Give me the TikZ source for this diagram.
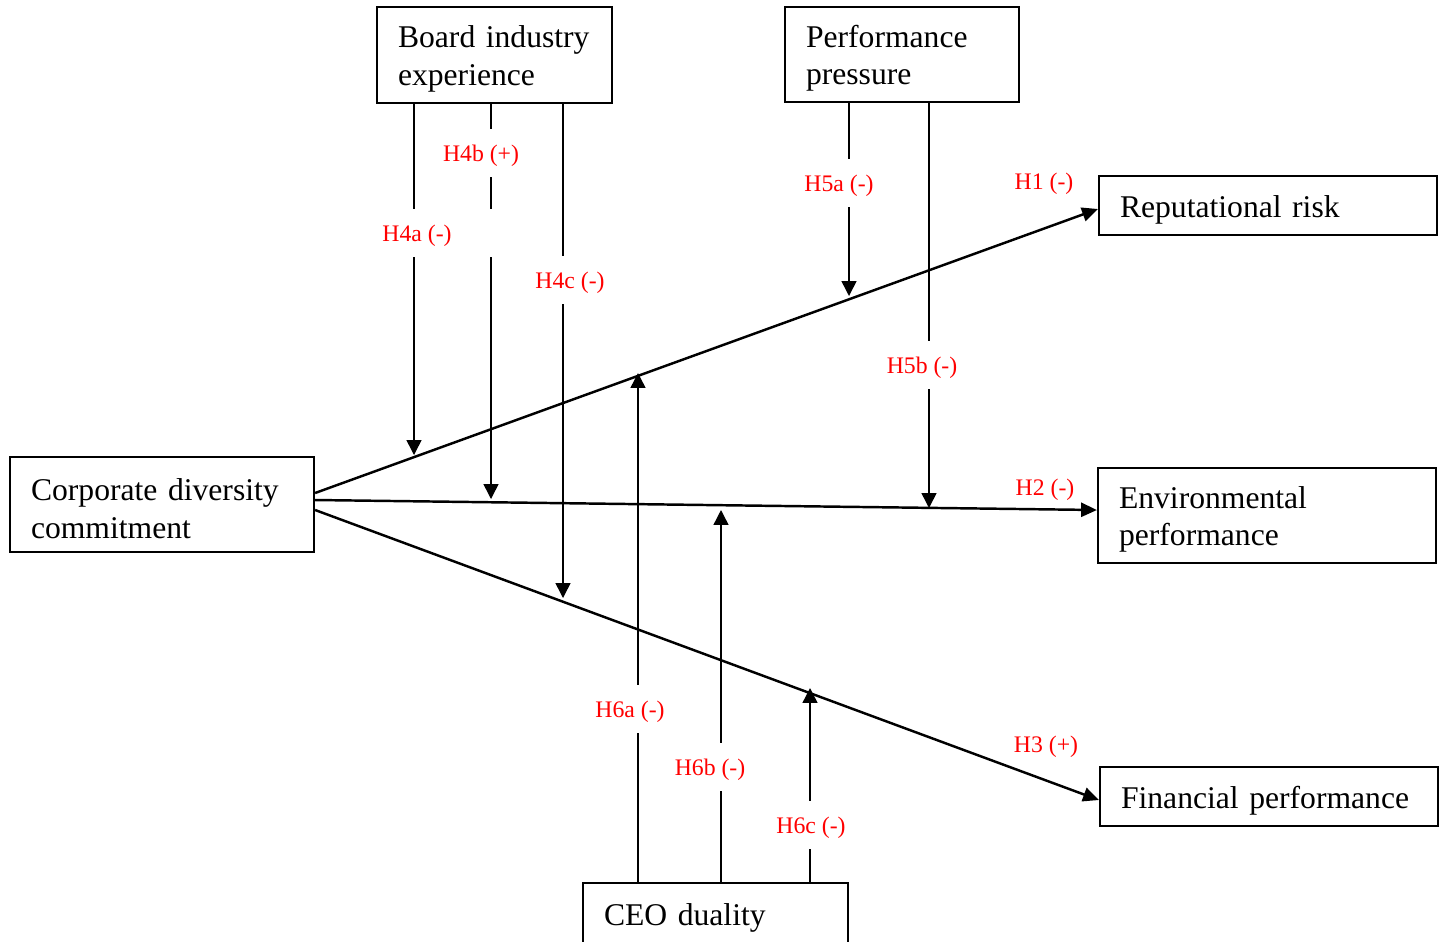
\documentclass[tikz,border=0pt]{standalone}
\usepackage{fontspec}
\setmainfont{Liberation Serif}
\usetikzlibrary{arrows.meta}

\begin{document}
\begin{tikzpicture}[x=0.02cm, y=-0.02cm,
	box/.style={draw, rectangle, line width=1.3pt, align=left, inner xsep=0.42cm, font=\fontsize{18}{21.3}\selectfont, execute at begin node={\rule{0pt}{17pt}}},
	hyp/.style={text=red, fill=white, minimum height=27pt, inner xsep=2pt, text height=12.7pt, text depth=2.9pt, font=\fontsize{13.5}{16}\selectfont},
	hmain/.style={text=red, inner sep=1pt, text height=12.7pt, text depth=2.9pt, font=\fontsize{13.5}{16}\selectfont},
	mainarrow/.style={line width=1.4pt, -{Triangle[length=9pt, width=8pt]}},
	modarrow/.style={line width=0.85pt, -{Triangle[length=8.5pt, width=8.5pt]}}]
	\useasboundingbox (0,0) rectangle (1446,941);

	\node[box, text width=3.86cm, minimum height=1.92cm]	(bie)	at (494.5,55)	{Board industry\\experience};
	\node[box, text width=3.84cm, minimum height=1.90cm]	(pp)	at (902,54.5)	{Performance\\pressure};
	\node[box, text width=5.24cm, minimum height=1.90cm]	(cdc)	at (162,504.5)	{Corporate diversity\\commitment};
	\node[box, text width=5.92cm, minimum height=1.18cm]	(rr)	at (1268,205.5)	{Reputational risk};
	\node[box, text width=5.92cm, minimum height=1.90cm]	(ep)	at (1267,515.5)	{Environmental\\performance};
	\node[box, text width=5.92cm, minimum height=1.18cm]	(fp)	at (1269,796.5)	{Financial performance};
	\node[box, text width=4.46cm, minimum height=1.24cm]	(ceo)	at (715.5,914)	{CEO duality};

	\coordinate	(t4a)	at (414,455);
	\coordinate	(t4b)	at (491,499);
	\coordinate	(t4c)	at (563,598);
	\coordinate	(t5a)	at (849,296);
	\coordinate	(t5b)	at (929,508);
	\coordinate	(t6a)	at (638,373);
	\coordinate	(t6b)	at (721,510);
	\coordinate	(t6c)	at (810,688);

	\path[mainarrow]
	([yshift=0.23cm]cdc.east)	edge	([yshift=-0.07cm]rr.west)
	([yshift=0.09cm]cdc.east)	edge	([yshift=0.11cm]ep.west)
	([yshift=-0.11cm]cdc.east)	edge	([yshift=-0.07cm]fp.west);

	\path[modarrow]
	(bie.south -| t4a)	edge	(t4a)
	(bie.south -| t4b)	edge	(t4b)
	(bie.south -| t4c)	edge	(t4c)
	(pp.south -| t5a)	edge	(t5a)
	(pp.south -| t5b)	edge	(t5b)
	(ceo.north -| t6a)	edge	(t6a)
	(ceo.north -| t6b)	edge	(t6b)
	(ceo.north -| t6c)	edge	(t6c);

	\node[hyp, minimum width=3.2cm]	(h4a)	at (417,233)	{H4a (-)};
	\node[hyp]	(h4b)	at (481,153)	{H4b (+)};
	\node[hyp]	(h4c)	at (570,280)	{H4c (-)};
	\node[hyp]	(h5a)	at (839,183)	{H5a (-)};
	\node[hyp]	(h5b)	at (922,365)	{H5b (-)};
	\node[hyp]	(h6a)	at (630,709)	{H6a (-)};
	\node[hyp]	(h6b)	at (710,767)	{H6b (-)};
	\node[hyp]	(h6c)	at (811,825)	{H6c (-)};
	\node[hmain]	(h1)	at (1044,181)	{H1 (-)};
	\node[hmain]	(h2)	at (1045,487)	{H2 (-)};
	\node[hmain]	(h3)	at (1046,744)	{H3 (+)};
\end{tikzpicture}
\end{document}
